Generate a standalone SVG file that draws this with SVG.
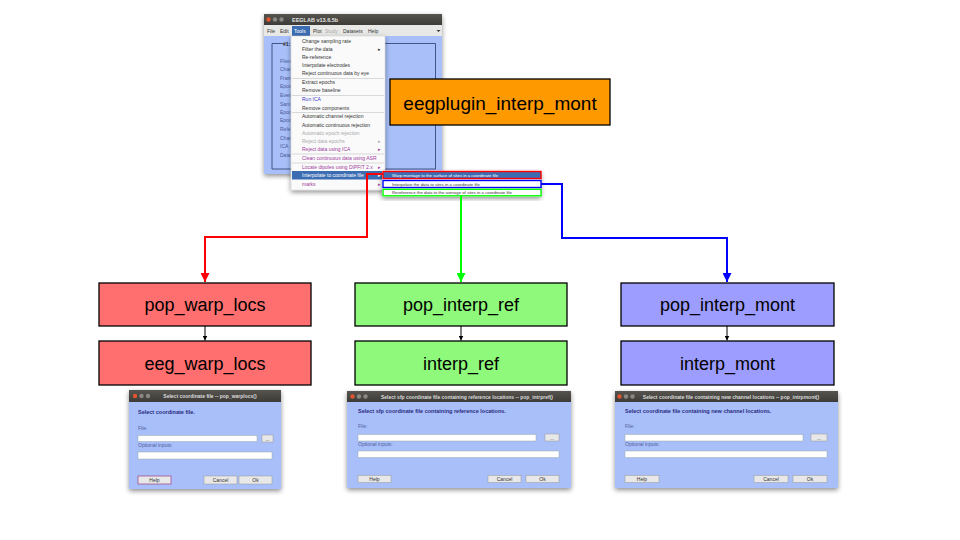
<svg xmlns="http://www.w3.org/2000/svg" width="960" height="540" viewBox="0 0 960 540">
<defs>
<filter id="sh" x="-10%" y="-10%" width="120%" height="125%"><feGaussianBlur in="SourceAlpha" stdDeviation="2.5"/><feOffset dy="2"/><feComponentTransfer><feFuncA type="linear" slope="0.45"/></feComponentTransfer><feMerge><feMergeNode/><feMergeNode in="SourceGraphic"/></feMerge></filter>
<linearGradient id="tb" x1="0" y1="0" x2="0" y2="1"><stop offset="0" stop-color="#57544f"/><stop offset="1" stop-color="#3c3b37"/></linearGradient>
<marker id="aR" viewBox="0 0 10 10" refX="10" refY="5" markerWidth="4.5" markerHeight="4.5" orient="auto" markerUnits="strokeWidth"><path d="M0,0 L10,5 L0,10 z" fill="#ff0000"/></marker>
<marker id="aG" viewBox="0 0 10 10" refX="10" refY="5" markerWidth="4.5" markerHeight="4.5" orient="auto" markerUnits="strokeWidth"><path d="M0,0 L10,5 L0,10 z" fill="#00ff00"/></marker>
<marker id="aB" viewBox="0 0 10 10" refX="10" refY="5" markerWidth="4.5" markerHeight="4.5" orient="auto" markerUnits="strokeWidth"><path d="M0,0 L10,5 L0,10 z" fill="#0000ff"/></marker>
<marker id="aK" viewBox="0 0 10 10" refX="10" refY="5" markerWidth="5" markerHeight="5" orient="auto" markerUnits="strokeWidth"><path d="M0,0 L10,5 L0,10 z" fill="#000"/></marker>
</defs>
<style>
text{font-family:"Liberation Sans",Arial,sans-serif}
.node{stroke:#000;stroke-width:1.3}
.lbl{font-size:18px;fill:#000;text-anchor:middle}
.red{fill:#ff6f6f}.grn{fill:#8ef97a}.blu{fill:#9d9dff}.org{fill:#ff9900}
.m{font-size:5px;fill:#333}
.mb{font-size:5px;fill:#3a3acc}
.mp{font-size:5px;fill:#a03aa0}
.mg{font-size:5px;fill:#aaa}
.sep{stroke:#c8c8c8;stroke-width:0.7}
.sub{font-size:4.3px;fill:#333}
.lab{font-size:5px;fill:#4a5a9a}
.dt{font-size:5px;fill:#dcdcdc;font-weight:bold;text-anchor:middle}
.dh{font-size:5.5px;fill:#2a2a80;font-weight:bold}
.dl{font-size:5px;fill:#5060a0}
.in{fill:#fff;stroke:#9aa;stroke-width:0.5}
.bt{fill:#e8e8e8;stroke:#999;stroke-width:0.5}
.btt{font-size:5px;fill:#333;text-anchor:middle}
.body{fill:#a8bff9}
.conn{fill:none;stroke-width:2}
</style>

<!-- EEGLAB window -->
<g id="eeglab_window">
<g filter="url(#sh)">
<rect x="264" y="14" width="178" height="160" class="body"/>
</g>
<rect x="264" y="14" width="178" height="11" fill="url(#tb)"/>
<circle cx="268.5" cy="19.5" r="2.2" fill="#e0552f"/>
<circle cx="275" cy="19.5" r="2.2" fill="#8a8884"/>
<circle cx="281.5" cy="19.5" r="2.2" fill="#8a8884"/>
<text x="292" y="21.5" style="font-size:5.5px;fill:#e4e4e4;font-weight:bold">EEGLAB v13.6.5b</text>
<rect x="264" y="25" width="178" height="11" fill="#e8e8e6"/>
<rect x="292" y="26" width="18" height="10" fill="#3c6db3"/>
<text x="267" y="32.5" class="m">File</text>
<text x="280" y="32.5" class="m">Edit</text>
<text x="294" y="32.5" style="font-size:5px;fill:#fff">Tools</text>
<text x="313" y="32.5" class="m">Plot</text>
<text x="325" y="32.5" class="mg">Study</text>
<text x="343" y="32.5" class="m">Datasets</text>
<text x="368" y="32.5" class="m">Help</text>
<path d="M436.5,30 l2,2 l2,-2 z" fill="#333"/>
<path d="M283,43.5 H272 V169 H435.5 V43.5 H300" fill="none" stroke="#2a3a6a" stroke-width="0.8"/>
<text x="283" y="46" style="font-size:5px;fill:#222;font-weight:bold">#1:</text>
<g class="lab">
<text x="280" y="63">Filen</text>
<text x="280" y="71">Chan</text>
<text x="280" y="79.5">Fram</text>
<text x="280" y="88">Epoc</text>
<text x="280" y="96.5">Even</text>
<text x="280" y="105.5">Sam</text>
<text x="280" y="114">Epoc</text>
<text x="280" y="122">Epoc</text>
<text x="280" y="130.5">Refe</text>
<text x="280" y="139.5">Chan</text>
<text x="280" y="148">ICA</text>
<text x="280" y="157">Data</text>
</g>
</g>

<!-- Tools dropdown -->
<g id="tools_menu">
<g filter="url(#sh)"><rect x="291" y="36" width="94" height="154" fill="#fafafa" stroke="#ccc" stroke-width="0.5"/></g>
<text x="302" y="42.5" class="m">Change sampling rate</text>
<text x="302" y="50.5" class="m">Filter the data</text><text x="378" y="50.5" class="m">▸</text>
<text x="302" y="59" class="m">Re-reference</text>
<text x="302" y="67" class="m">Interpolate electrodes</text>
<text x="302" y="75" class="m">Reject continuous data by eye</text>
<line x1="292" y1="78.5" x2="384" y2="78.5" class="sep"/>
<text x="302" y="84" class="m">Extract epochs</text>
<text x="302" y="92" class="m">Remove baseline</text>
<line x1="292" y1="95.5" x2="384" y2="95.5" class="sep"/>
<text x="302" y="101" class="mb">Run ICA</text>
<text x="302" y="109.5" class="m">Remove components</text>
<line x1="292" y1="112.5" x2="384" y2="112.5" class="sep"/>
<text x="302" y="118" class="m">Automatic channel rejection</text>
<text x="302" y="126.5" class="m">Automatic continuous rejection</text>
<text x="302" y="135" class="mg">Automatic epoch rejection</text>
<text x="302" y="143" class="mg">Reject data epochs</text><text x="378" y="143" class="mg">▸</text>
<text x="302" y="151" class="mp">Reject data using ICA</text><text x="378" y="151" class="mp">▸</text>
<line x1="292" y1="154" x2="384" y2="154" class="sep"/>
<text x="302" y="160" class="mp">Clean continuous data using ASR</text>
<line x1="292" y1="163" x2="384" y2="163" class="sep"/>
<text x="302" y="168.5" class="mp">Locate dipoles using DIPFIT 2.x</text><text x="378" y="168.5" class="mp">▸</text>
<rect x="292" y="171" width="93" height="8.5" fill="#3c6db3"/>
<text x="302" y="177" style="font-size:5px;fill:#fff">Interpolate to coordinate file</text><text x="378" y="177" style="font-size:5px;fill:#fff">▸</text>
<text x="302" y="186" class="mp">marks</text><text x="378" y="186" class="mp">▸</text>
</g>

<!-- Submenu -->
<g id="submenu">
<g filter="url(#sh)"><rect x="382" y="170.5" width="159" height="26" fill="#fafafa"/></g>
<rect x="383" y="171.5" width="158" height="7" fill="#3c6db3"/>
<rect x="383" y="171.5" width="158" height="7" fill="none" stroke="#ff0000" stroke-width="1.4"/>
<text x="392" y="176.7" style="font-size:4.3px;fill:#fff">Warp montage to the surface of sites in a coordinate file</text>
<rect x="383" y="180.5" width="158" height="7" fill="#fff" stroke="#0000ff" stroke-width="1.4"/>
<text x="392" y="185.7" class="sub">Interpolate the data to sites in a coordinate file</text>
<rect x="383" y="189.3" width="158" height="6.5" fill="#fff" stroke="#00ff00" stroke-width="1.4"/>
<text x="392" y="194.2" class="sub">Rereference the data to the average of sites in a coordinate file</text>
</g>

<!-- Plugin node -->
<g id="eegplugin_interp_mont">
<rect x="390" y="79" width="220" height="46" class="node org"/>
<text x="500" y="109.5" class="lbl" style="font-size:19px">eegplugin_interp_mont</text>
</g>

<!-- Connectors -->
<g id="connectors">
<path d="M383,174 H367 V237 H205 V282" class="conn" stroke="#ff0000" marker-end="url(#aR)"/>
<path d="M461,196 V282" class="conn" stroke="#00ff00" marker-end="url(#aG)"/>
<path d="M541,184 H562 V238 H727 V282" class="conn" stroke="#0000ff" marker-end="url(#aB)"/>
<path d="M205,326 V340.5" fill="none" stroke="#000" stroke-width="1" marker-end="url(#aK)"/>
<path d="M461,326 V340.5" fill="none" stroke="#000" stroke-width="1" marker-end="url(#aK)"/>
<path d="M727,326 V340.5" fill="none" stroke="#000" stroke-width="1" marker-end="url(#aK)"/>
</g>

<!-- Nodes -->
<g id="pop_warp_locs"><rect x="99" y="283" width="212" height="43" class="node red"/><text x="205" y="311" class="lbl">pop_warp_locs</text></g>
<g id="eeg_warp_locs"><rect x="99" y="341" width="212" height="44" class="node red"/><text x="205" y="369.5" class="lbl">eeg_warp_locs</text></g>
<g id="pop_interp_ref"><rect x="355" y="283" width="212" height="43" class="node grn"/><text x="461" y="311" class="lbl">pop_interp_ref</text></g>
<g id="interp_ref"><rect x="355" y="341" width="212" height="44" class="node grn"/><text x="461" y="369.5" class="lbl">interp_ref</text></g>
<g id="pop_interp_mont"><rect x="621" y="283" width="213" height="43" class="node blu"/><text x="727.5" y="311" class="lbl">pop_interp_mont</text></g>
<g id="interp_mont"><rect x="621" y="341" width="213" height="44" class="node blu"/><text x="727.5" y="369.5" class="lbl">interp_mont</text></g>

<!-- Dialog 1 -->
<g id="dialog_warplocs">
<g filter="url(#sh)"><rect x="129" y="390" width="152" height="99" class="body"/></g>
<rect x="129" y="390" width="152" height="12" fill="url(#tb)"/>
<circle cx="135" cy="396" r="2.2" fill="#e0552f"/><circle cx="141.5" cy="396" r="2.2" fill="#8a8884"/><circle cx="148" cy="396" r="2.2" fill="#8a8884"/>
<text x="210" y="398" class="dt">Select coordinate file -- pop_warplocs()</text>
<text x="138" y="413.5" class="dh">Select coordinate file.</text>
<text x="138" y="429.5" class="dl">File:</text>
<rect x="138" y="435.5" width="119" height="6" class="in"/>
<rect x="262" y="435" width="11" height="7" class="bt"/><text x="267.5" y="440.5" class="btt">...</text>
<text x="138" y="446.5" class="dl">Optional inputs:</text>
<rect x="138" y="452" width="134" height="7" class="in"/>
<rect x="138" y="476" width="33" height="8" class="bt" style="stroke:#a05090;stroke-width:0.8"/><text x="154.5" y="482" class="btt">Help</text>
<rect x="204" y="476" width="33" height="8" class="bt"/><text x="220.5" y="482" class="btt">Cancel</text>
<rect x="239" y="476" width="33" height="8" class="bt"/><text x="255.5" y="482" class="btt">Ok</text>
</g>

<!-- Dialog 2 -->
<g id="dialog_interpref">
<g filter="url(#sh)"><rect x="347" y="391" width="224" height="97" class="body"/></g>
<rect x="347" y="391" width="224" height="11" fill="url(#tb)"/>
<circle cx="352.5" cy="396.5" r="2.2" fill="#e0552f"/><circle cx="359" cy="396.5" r="2.2" fill="#8a8884"/><circle cx="365.5" cy="396.5" r="2.2" fill="#8a8884"/>
<text x="467" y="398.5" class="dt">Select sfp coordinate file containing reference locations -- pop_intrpref()</text>
<text x="358" y="412.5" class="dh">Select sfp coordinate file containing reference locations.</text>
<text x="358" y="427.5" class="dl">File:</text>
<rect x="358" y="434.5" width="178" height="6.5" class="in"/>
<rect x="545" y="434" width="14" height="7" class="bt"/><text x="552" y="439.5" class="btt">...</text>
<text x="358" y="445.5" class="dl">Optional inputs:</text>
<rect x="358" y="451" width="201" height="6.5" class="in"/>
<rect x="358" y="475.5" width="33" height="7" class="bt"/><text x="374.5" y="481" class="btt">Help</text>
<rect x="488" y="475.5" width="33" height="7" class="bt"/><text x="504.5" y="481" class="btt">Cancel</text>
<rect x="526" y="475.5" width="33" height="7" class="bt"/><text x="542.5" y="481" class="btt">Ok</text>
</g>

<!-- Dialog 3 -->
<g id="dialog_interpmont">
<g filter="url(#sh)"><rect x="615" y="391" width="223" height="97" class="body"/></g>
<rect x="615" y="391" width="223" height="11" fill="url(#tb)"/>
<circle cx="619.5" cy="396.5" r="2.2" fill="#e0552f"/><circle cx="626" cy="396.5" r="2.2" fill="#8a8884"/><circle cx="632.5" cy="396.5" r="2.2" fill="#8a8884"/>
<text x="731" y="398.5" class="dt">Select coordinate file containing new channel locations -- pop_intrpmont()</text>
<text x="625" y="412.5" class="dh">Select coordinate file containing new channel locations.</text>
<text x="625" y="427.5" class="dl">File:</text>
<rect x="625" y="434.5" width="178" height="6.5" class="in"/>
<rect x="811" y="434" width="16" height="7" class="bt"/><text x="819" y="439.5" class="btt">...</text>
<text x="625" y="445.5" class="dl">Optional inputs:</text>
<rect x="625" y="451" width="202" height="6.5" class="in"/>
<rect x="625" y="475.5" width="34" height="7" class="bt"/><text x="642" y="481" class="btt">Help</text>
<rect x="754" y="475.5" width="34" height="7" class="bt"/><text x="771" y="481" class="btt">Cancel</text>
<rect x="793" y="475.5" width="34" height="7" class="bt"/><text x="810" y="481" class="btt">Ok</text>
</g>
</svg>
